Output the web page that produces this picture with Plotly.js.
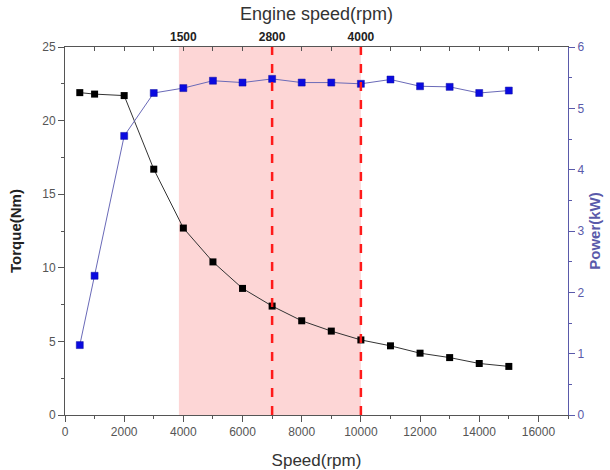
<!DOCTYPE html>
<html><head><meta charset="utf-8">
<script src="https://cdn.plot.ly/plotly-3.0.1.min.js"></script>
<style>html,body{margin:0;padding:0;background:#fff}#chart{width:610px;height:470px}</style>
</head><body><div id="chart"></div>
<script>
var speed = [500, 1000, 2000, 3000, 4000, 5000, 6000, 7000, 8000, 9000, 10000, 11000, 12000, 13000, 14000, 15000];
var torque = [21.9, 21.8, 21.7, 16.7, 12.7, 10.4, 8.6, 7.4, 6.4, 5.7, 5.1, 4.7, 4.2, 3.9, 3.5, 3.3];
var power = [1.14, 2.27, 4.55, 5.25, 5.33, 5.45, 5.42, 5.48, 5.42, 5.42, 5.40, 5.47, 5.36, 5.35, 5.25, 5.29];
var bandRange = [3850, 10000];
var dashedSpeeds = [7000, 10000];
var topTickPos = [4000, 7000, 10000];
var topTickText = ['1500', '2800', '4000'];

var FONT = 'Liberation Sans, Arial, sans-serif';
var BLUE_AX = '#5a5aaa';

var topVals = [], topText = [];
for (var v = 0; v <= 17000; v += 1000) {
  topVals.push(v);
  var idx = topTickPos.indexOf(v);
  topText.push(idx >= 0 ? topTickText[idx] : '');
}

var traces = [
  {x: speed, y: torque, type: 'scatter', mode: 'lines+markers', name: 'Torque',
   line: {color: '#333333', width: 1},
   marker: {symbol: 'square', size: 7, color: '#000000'}, xaxis: 'x', yaxis: 'y'},
  {x: speed, y: power, type: 'scatter', mode: 'lines+markers', name: 'Power',
   line: {color: '#6a6ab8', width: 1},
   marker: {symbol: 'square', size: 7, color: '#0a0ae0', line: {color: '#1010a0', width: 0.5}}, xaxis: 'x', yaxis: 'y2'},
  {x: [0, 17000], y: [null, null], type: 'scatter', mode: 'lines', xaxis: 'x2', yaxis: 'y', showlegend: false, hoverinfo: 'skip'}
];

var shapes = [{type: 'rect', xref: 'x', yref: 'paper', x0: bandRange[0], x1: bandRange[1], y0: 0, y1: 1,
  fillcolor: '#fdd6d6', line: {width: 0}, layer: 'below'}];
dashedSpeeds.forEach(function (s) {
  shapes.push({type: 'line', xref: 'x', yref: 'paper', x0: s, x1: s, y0: 0, y1: 1,
    line: {color: '#ff1a1a', width: 2.5, dash: 'dash'}});
});

var layout = {
  width: 610, height: 470,
  margin: {l: 65, r: 42, t: 47, b: 55},
  paper_bgcolor: '#fff', plot_bgcolor: 'rgba(0,0,0,0)',
  showlegend: false,
  font: {family: FONT, size: 11, color: '#444'},
  xaxis: {range: [0, 17000], dtick: 2000, tick0: 0, tickformat: 'd', ticks: 'outside', ticklen: 6, tickcolor: '#555',
    showline: true, linecolor: '#555', linewidth: 1, showgrid: false, zeroline: false,
    tickfont: {size: 12, color: '#555'},
    minor: {dtick: 1000, ticks: 'outside', ticklen: 3, tickcolor: '#555'},
    title: {text: 'Speed(rpm)', font: {size: 17, color: '#333'}, standoff: 18}, automargin: false},
  xaxis2: {overlaying: 'x', side: 'top', range: [0, 17000], tickmode: 'array', tickvals: topVals, ticktext: topText,
    ticks: 'inside', ticklen: 4, tickcolor: '#555', showline: true, linecolor: '#555', linewidth: 1,
    showgrid: false, zeroline: false,
    tickfont: {size: 12, color: '#222', family: FONT, weight: 'bold'},
    title: {text: 'Engine speed(rpm)', font: {size: 18, color: '#333'}, standoff: 4}, automargin: false},
  yaxis: {range: [0, 25], dtick: 5, ticks: 'outside', ticklen: 6, tickcolor: '#555',
    showline: true, linecolor: '#555', linewidth: 1, showgrid: false, zeroline: false,
    tickfont: {size: 12, color: '#555'},
    minor: {dtick: 2.5, ticks: 'outside', ticklen: 3, tickcolor: '#555'},
    title: {text: 'Torque(Nm)', font: {size: 15, color: '#222', weight: 'bold'}, standoff: 16}, automargin: false},
  yaxis2: {overlaying: 'y', side: 'right', range: [0, 6], dtick: 1, ticks: 'outside', ticklen: 6, tickcolor: BLUE_AX,
    showline: true, linecolor: BLUE_AX, linewidth: 1, showgrid: false, zeroline: false,
    tickfont: {size: 12, color: BLUE_AX},
    minor: {dtick: 0.5, ticks: 'outside', ticklen: 3, tickcolor: BLUE_AX},
    title: {text: 'Power(kW)', font: {size: 15, color: BLUE_AX, weight: 'bold'}, standoff: 6}, automargin: false},
  shapes: shapes
};

Plotly.newPlot('chart', traces, layout, {displayModeBar: false, staticPlot: true});
</script></body></html>
